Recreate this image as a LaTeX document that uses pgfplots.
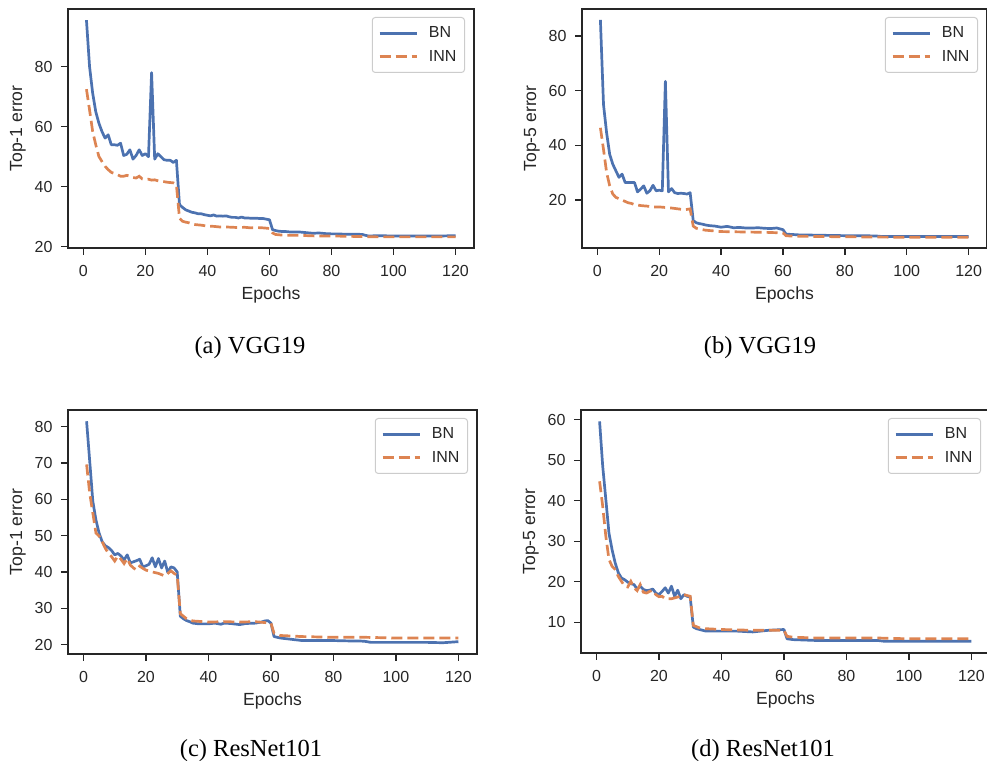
\documentclass[border=0pt]{standalone}
\usepackage{fontspec}
\setmainfont{Liberation Sans}
\newfontfamily\capfont{Liberation Serif}
\usepackage{pgfplots}
\pgfplotsset{compat=1.18}
\definecolor{cblue}{HTML}{4C72B0}
\definecolor{corange}{HTML}{DD8452}
\definecolor{cdark}{HTML}{262626}
\definecolor{cleg}{HTML}{CCCCCC}
\pgfplotsset{
  myax/.style={
    scale only axis,
    xmin=-4.95, xmax=125.95,
    xtick={0,20,40,60,80,100,120},
    axis line style={draw=cdark, line width=1.8bp},
    tick style={draw=cdark, line width=1.4bp},
    major tick length=7bp,
    tick align=outside,
    xtick pos=bottom, ytick pos=left,
    /pgf/number format/assume math mode=true,
    ticklabel style={font=\fontsize{16bp}{18bp}\selectfont, text=cdark},
    xticklabel style={yshift=-7bp},
    yticklabel style={xshift=-5bp},
    xlabel={Epochs},
    every axis x label/.style={at={(axis description cs:0.5,0)}, anchor=center, yshift=-47bp,
      font=\fontsize{17.6bp}{20bp}\selectfont, text=cdark},
    every axis y label/.style={at={(axis description cs:0,0.5)}, xshift=-50bp, anchor=center, rotate=90,
      font=\fontsize{17.6bp}{20bp}\selectfont, text=cdark},
    legend style={at={(1,1)}, anchor=north east, xshift=-9bp, yshift=-8bp,
      draw=cleg, rounded corners=3bp, line width=1bp, fill=white,
      font=\fontsize{16bp}{18bp}\selectfont, text=cdark,
      inner xsep=6bp, inner ysep=7.5bp, row sep=7bp, column sep=9bp},
    legend cell align=left,
    legend image code/.code={\draw[##1] (0bp,0bp) -- (37bp,0bp);},
  },
  bn/.style={color=cblue, line width=2.7bp, line join=round},
  inn/.style={color=corange, line width=2.7bp, dash pattern=on 11bp off 5bp},
}
\begin{document}
\begin{tikzpicture}
\useasboundingbox (0bp,0bp) rectangle (987bp,761bp);
% (a)
\begin{axis}[myax, at={(68bp,752bp)}, anchor=north west, width=406bp, height=239bp,
  ymin=19.6, ymax=99.2, ytick={20,40,60,80}, ylabel={Top-1 error}]
\addplot[bn] coordinates {(1,95.5)(2,80)(3,71.2)(4,65)(5,61.2)(6,58.4)(7,56.2)(8,57.3)(9,54)(10,54)(11,53.8)(12,54.5)(13,50.4)(14,50.8)(15,52.3)(16,49.2)(17,50.4)(18,52.3)(19,50.4)(20,51)(21,50)(22,78)(23,49.2)(24,51)(25,50)(26,49)(27,48.8)(28,48.8)(29,48.1)(30,48.8)(31,34)(32,33.1)(33,32.3)(34,31.9)(35,31.5)(36,31.3)(37,31)(38,31)(39,30.7)(40,30.5)(41,30.3)(42,30.6)(43,30.2)(44,30.3)(45,30.2)(46,30.3)(47,30)(48,29.8)(49,29.8)(50,29.6)(51,29.9)(52,29.6)(53,29.6)(54,29.5)(55,29.5)(56,29.5)(57,29.4)(58,29.4)(59,29.2)(60,29)(61,25.7)(62,25.4)(63,25.2)(64,25.1)(65,25.1)(66,25)(67,24.9)(68,24.9)(70,24.9)(72,24.7)(74,24.5)(76,24.6)(78,24.4)(80,24.3)(82,24.3)(84,24.2)(86,24.2)(88,24.2)(90,24.1)(91,23.8)(92,23.6)(95,23.7)(100,23.6)(105,23.6)(110,23.6)(115,23.6)(120,23.7)};
\addlegendentry{BN}
\addplot[inn] coordinates {(1,72.5)(2,65.6)(3,58.4)(4,54)(5,50.1)(6,48.4)(7,46.8)(8,45.7)(9,44.8)(10,44.4)(11,44)(12,43.5)(13,43.5)(14,43.8)(15,43.5)(16,43.1)(17,42.9)(18,43.5)(19,42.6)(20,42.4)(21,42.5)(22,42.2)(23,42.3)(24,42)(25,41.8)(26,41.7)(27,41.5)(28,41.4)(29,41.3)(30,40.7)(31,29.5)(32,28.5)(33,28.2)(34,28)(35,27.6)(36,27.4)(38,27.2)(40,26.9)(42,26.8)(44,26.6)(46,26.6)(48,26.5)(50,26.4)(52,26.5)(54,26.3)(56,26.4)(58,26.3)(60,26.1)(61,24.6)(62,24.1)(64,23.9)(66,23.8)(70,23.8)(75,23.6)(80,23.6)(85,23.5)(90,23.4)(95,23.3)(100,23.3)(110,23.3)(120,23.3)};
\addlegendentry{INN}
\end{axis}
% (b)
\begin{axis}[myax, at={(582bp,752bp)}, anchor=north west, width=405bp, height=239bp,
  ymin=2.5, ymax=89.8, ytick={20,40,60,80}, ylabel={Top-5 error}]
\addplot[bn] coordinates {(1,85.8)(2,54.9)(3,44.6)(4,36.7)(5,33.1)(6,30.7)(7,28.3)(8,29.5)(9,26.4)(10,26.4)(11,26.4)(12,26.4)(13,23)(14,24)(15,25.2)(16,22.5)(17,23.4)(18,25.4)(19,23.4)(20,23.6)(21,23.4)(22,63.4)(23,23)(24,24.2)(25,22.7)(26,22.4)(27,22.5)(28,22.4)(29,22.2)(30,22.7)(31,12.5)(32,11.7)(33,11.4)(34,11.2)(35,10.9)(36,10.7)(38,10.5)(40,10.1)(42,10.4)(44,9.9)(46,10)(48,9.8)(50,9.8)(52,9.9)(54,9.7)(56,9.6)(58,9.8)(60,9.2)(61,7.6)(62,7.5)(65,7.3)(70,7.2)(75,7.1)(80,7)(85,7)(90,6.9)(92,6.7)(100,6.7)(110,6.7)(120,6.7)};
\addlegendentry{BN}
\addplot[inn] coordinates {(1,46.4)(2,38.5)(3,30.1)(4,25.2)(5,22.2)(6,21)(7,20.5)(8,20)(9,19.5)(10,19)(11,18.8)(12,18.3)(13,18.2)(14,18)(15,17.9)(16,17.8)(18,17.5)(20,17.5)(22,17.3)(24,17.1)(26,16.8)(28,16.5)(29,16.6)(30,16.8)(31,10.5)(32,9.7)(33,9.4)(35,9)(38,8.7)(40,8.5)(45,8.4)(50,8.3)(55,8.2)(60,8)(61,7)(62,6.9)(65,6.8)(70,6.7)(80,6.6)(90,6.5)(100,6.4)(110,6.4)(120,6.4)};
\addlegendentry{INN}
\end{axis}
% (c)
\begin{axis}[myax, at={(68bp,351bp)}, anchor=north west, width=409bp, height=244bp,
  ymin=17.4, ymax=84.6, ytick={20,30,40,50,60,70,80}, ylabel={Top-1 error}]
\addplot[bn] coordinates {(1,81.5)(2,70.5)(3,59.4)(4,54.3)(5,50.7)(6,48.3)(7,47.2)(8,46.7)(9,45.9)(10,44.7)(11,45.1)(12,44.4)(13,43.3)(14,44.7)(15,42.5)(16,42.8)(17,43.1)(18,43.5)(19,41.4)(20,41.7)(21,42.1)(22,43.9)(23,41.4)(24,43.7)(25,41.1)(26,43)(27,39.8)(28,41.4)(29,41.1)(30,40)(31,27.8)(32,27.1)(33,26.6)(34,26.3)(35,25.9)(37,25.7)(40,25.7)(42,25.9)(44,25.6)(45,25.9)(47,25.8)(50,25.5)(52,25.8)(55,25.9)(57,26.2)(58,26.5)(59,26.6)(60,25.9)(61,22.2)(63,21.8)(65,21.6)(68,21.3)(70,21.1)(75,21.1)(80,21.1)(85,21)(88,21)(90,20.9)(92,20.6)(100,20.6)(105,20.6)(110,20.6)(115,20.5)(120,20.8)};
\addlegendentry{BN}
\addplot[inn] coordinates {(1,69.6)(2,61.7)(3,56.2)(4,50.7)(5,49.9)(6,48.3)(7,46.5)(8,45.1)(9,44.2)(10,43)(11,44.4)(12,43.5)(13,42.3)(14,43.7)(15,41.9)(16,41.1)(17,40.5)(18,41.6)(19,41)(20,40.5)(22,40)(24,39.6)(26,38.9)(27,39.6)(28,40.3)(29,39.6)(30,39.1)(31,28.5)(33,27.1)(35,26.5)(40,26.2)(45,26.3)(50,26.2)(55,26.3)(60,25.9)(61,23.1)(63,22.5)(70,22.2)(80,22)(90,22)(100,21.8)(110,21.8)(120,21.8)};
\addlegendentry{INN}
\end{axis}
% (d)
\begin{axis}[myax, at={(581bp,351bp)}, anchor=north west, width=409bp, height=243bp,
  ymin=2.4, ymax=62.4, ytick={10,20,30,40,50,60}, ylabel={Top-5 error}]
\addplot[bn] coordinates {(1,59.6)(2,48.5)(3,40.3)(4,32)(5,27.9)(6,24.6)(7,22.2)(8,20.9)(9,20.5)(10,19.9)(11,19.5)(12,19.3)(13,18.2)(14,18.9)(15,18.1)(16,17.8)(17,17.9)(18,18.2)(19,17.2)(20,16.8)(21,17.6)(22,18.5)(23,17.2)(24,18.9)(25,16.4)(26,17.9)(27,15.8)(28,16.8)(29,16.4)(30,16.2)(31,8.8)(32,8.4)(33,8.2)(35,7.8)(40,7.8)(45,7.8)(50,7.6)(55,8)(60,8.2)(61,5.9)(63,5.7)(70,5.5)(80,5.5)(90,5.5)(92,5.3)(100,5.3)(110,5.3)(120,5.3)};
\addlegendentry{BN}
\addplot[inn] coordinates {(1,44.8)(2,38.6)(3,31.2)(4,25.5)(5,23.8)(6,23)(7,21.3)(8,20.1)(9,18.9)(10,18.7)(11,20.1)(12,18.5)(13,17.8)(14,19.3)(15,17.4)(16,17.2)(17,17.6)(18,17.9)(19,16.8)(20,16.3)(21,16.4)(22,15.8)(24,15.8)(26,16.2)(28,16.8)(30,16.4)(31,9.2)(33,8.6)(35,8.4)(40,8.2)(50,8)(60,8)(61,6.5)(63,6.3)(70,6.1)(80,6.1)(90,6.1)(100,5.9)(120,5.9)};
\addlegendentry{INN}
\end{axis}
\node[font=\capfont\fontsize{24.5bp}{28bp}\selectfont, anchor=base] at (250bp,407bp) {(a) VGG19};
\node[font=\capfont\fontsize{24.5bp}{28bp}\selectfont, anchor=base] at (760bp,407bp) {(b) VGG19};
\node[font=\capfont\fontsize{24.5bp}{28bp}\selectfont, anchor=base] at (251bp,4.5bp) {(c) ResNet101};
\node[font=\capfont\fontsize{24.5bp}{28bp}\selectfont, anchor=base] at (763bp,4.5bp) {(d) ResNet101};
\end{tikzpicture}
\end{document}
